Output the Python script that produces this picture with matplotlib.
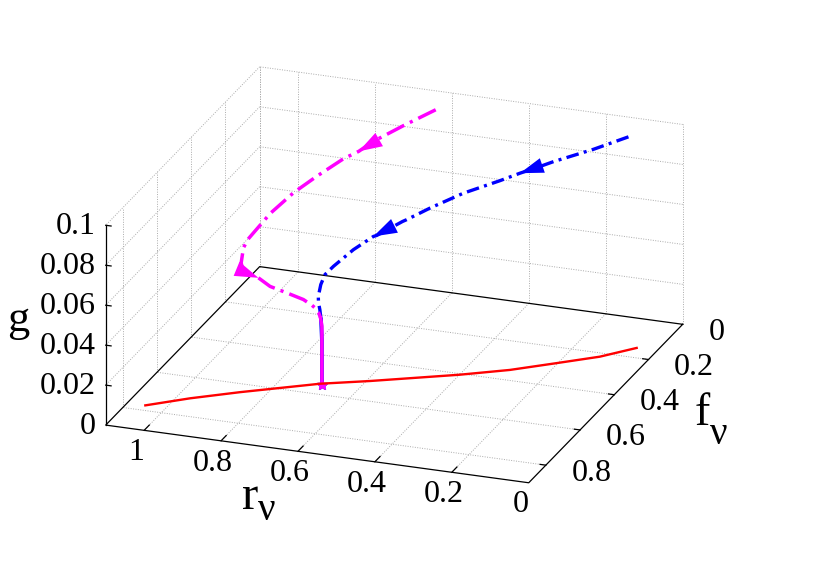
import matplotlib
matplotlib.use("Agg")
import matplotlib.pyplot as plt
from mpl_toolkits.mplot3d import proj3d

plt.rcParams['font.family'] = ['Liberation Serif', 'DejaVu Serif']

# axis ranges and ticks
r_ticks = [0, 0.2, 0.4, 0.6, 0.8, 1]
f_ticks = [0, 0.2, 0.4, 0.6, 0.8]
g_ticks = [0, 0.02, 0.04, 0.06, 0.08, 0.1]
r_labels = ["0", "0.2", "0.4", "0.6", "0.8", "1"]
f_labels = ["0", "0.2", "0.4", "0.6", "0.8"]
g_labels = ["0", "0.02", "0.04", "0.06", "0.08", "0.1"]
r_max = 1.1
f_max = 0.9
g_max = 0.1

# red curve, in the g = 0 plane
red_r = [1.053, 0.966, 0.865, 0.700, 0.591, 0.527, 0.399, 0.295, 0.203, 0.118, 0.053]
red_f = [0.774, 0.708, 0.643, 0.546, 0.498, 0.467, 0.405, 0.347, 0.281, 0.219, 0.150]

# blue flow
blue_r = [0.097, 0.185, 0.285, 0.315, 0.363, 0.410, 0.493, 0.572, 0.622, 0.632, 0.682, 0.690,
          0.722, 0.744, 0.754, 0.748, 0.734, 0.722, 0.705, 0.696, 0.694, 0.694]
blue_f = [0.099, 0.105, 0.114, 0.129, 0.135, 0.146, 0.174, 0.191, 0.215, 0.217, 0.254, 0.257,
          0.302, 0.369, 0.396, 0.434, 0.480, 0.506, 0.536, 0.5495, 0.549, 0.549]
blue_g = [0.100, 0.092, 0.084, 0.082, 0.078, 0.074, 0.068, 0.060, 0.055, 0.054, 0.049, 0.0485,
          0.045, 0.042, 0.040, 0.0385, 0.037, 0.0365, 0.036, 0.0325, 0.0225, 0.0]

# magenta flow
mag_r = [0.600, 0.670, 0.735, 0.762, 0.796, 0.845, 0.884, 0.918, 0.931, 0.936, 0.934, 0.919, 0.904,
         0.864, 0.827, 0.783, 0.739, 0.713, 0.707, 0.700, 0.696, 0.694, 0.694, 0.694]
mag_f = [0.095, 0.127, 0.156, 0.181, 0.193, 0.239, 0.288, 0.347, 0.416, 0.438, 0.468, 0.515, 0.537,
         0.538, 0.553, 0.554, 0.556, 0.564, 0.560, 0.555, 0.552, 0.549, 0.549, 0.549]
mag_g = [0.100, 0.093, 0.086, 0.0825, 0.079, 0.073, 0.068, 0.062, 0.058, 0.0565, 0.055, 0.052, 0.050,
         0.048, 0.046, 0.044, 0.042, 0.0405, 0.039, 0.0365, 0.0335, 0.0292, 0.0225, 0.0]

# arrow heads as (tail index, tip index) along each flow
blue_arrows = [(2, 4), (7, 11)]
mag_arrows = [(1, 3), (12, 13)]

# index where each flow turns into the solid drop onto the fixed point
blue_drop = 19
mag_drop = 20

fixed_r = 0.694
fixed_f = 0.549

fig = plt.figure(figsize=(8.3, 5.81), dpi=100)
ax = fig.add_axes([0, 0, 581 / 830, 1], projection='3d', computed_zorder=False, proj_type='ortho')
ax.view_init(elev=22, azim=110)
ax.set_xlim(0, r_max, view_margin=0)
ax.set_ylim(0, f_max, view_margin=0)
ax.set_zlim(0, g_max, view_margin=0)
ax.set_box_aspect((1, 1, 0.4787))
ax.set_axis_off()


def proj2d(r, f, g):
    x, y, _ = proj3d.proj_transform(r, f, g, ax.get_proj())
    return float(x), float(y)


grid_kw = dict(color='#aaaaaa', lw=0.7, ls=(0, (1, 1.5)), zorder=1)
edge_kw = dict(color='black', lw=0.9, zorder=2)

# walls and floor grid
for r in r_ticks + [r_max]:
    ax.plot([r, r], [0, 0], [0, g_max], **grid_kw)
    if 0 < r < r_max:
        ax.plot([r, r], [0, f_max], [0, 0], **grid_kw)
for f in f_ticks + [f_max]:
    ax.plot([r_max, r_max], [f, f], [0, g_max], **grid_kw)
    if 0 < f < f_max:
        ax.plot([0, r_max], [f, f], [0, 0], **grid_kw)
for g in g_ticks[1:]:
    ax.plot([0, r_max], [0, 0], [g, g], **grid_kw)
    ax.plot([r_max, r_max], [0, f_max], [g, g], **grid_kw)

# floor border and g axis
ax.plot([0, r_max, r_max, 0, 0], [0, 0, f_max, f_max, 0], [0, 0, 0, 0, 0], **edge_kw)
ax.plot([r_max, r_max], [f_max, f_max], [0, g_max], **edge_kw)
for r in r_ticks[1:]:
    ax.plot([r, r], [f_max, f_max - 0.03], [0, 0], **edge_kw)
for f in f_ticks[1:]:
    ax.plot([0, 0.015], [f, f], [0, 0], **edge_kw)
for g in g_ticks[1:]:
    ax.plot([r_max, r_max - 0.014], [f_max, f_max], [g, g], **edge_kw)


def tick_text(r, f, g, s, ha):
    ax.annotate(s, xy=proj2d(r, f, g), xytext=(0, -2), textcoords='offset points',
                fontsize=23, ha=ha, va='center', annotation_clip=False)


# tick labels
for r, s in zip(r_ticks, r_labels):
    tick_text(r - 0.025, f_max + 0.103, 0, s, 'center')
for f, s in zip(f_ticks, f_labels):
    tick_text(-0.07, f + 0.008, 0, s, 'left')
for g, s in zip(g_ticks, g_labels):
    tick_text(r_max + 0.026, f_max, g, s, 'right')

# curves, magenta has the longer dash
blue_dash = (0, (3.8, 1.6, 0.9, 1.6))
mag_dash = (0, (5.6, 1.8, 0.9, 1.8))
ax.plot(blue_r[:blue_drop + 1], blue_f[:blue_drop + 1], blue_g[:blue_drop + 1],
        color='#0000ff', lw=2.4, ls=blue_dash, zorder=3)
ax.plot(blue_r[blue_drop:], blue_f[blue_drop:], blue_g[blue_drop:], color='#0000ff', lw=2.7, zorder=3)
ax.plot(mag_r[:mag_drop + 1], mag_f[:mag_drop + 1], mag_g[:mag_drop + 1],
        color='#ff00ff', lw=2.5, ls=mag_dash, zorder=4)
ax.plot(mag_r[mag_drop:], mag_f[mag_drop:], mag_g[mag_drop:], color='#ff00ff', lw=2.5, zorder=4)
ax.plot([fixed_r], [fixed_f], [0], marker='*', ms=8, color='#0000ff', ls='none', zorder=3)
ax.plot([fixed_r], [fixed_f], [0], marker='*', ms=7, color='#ff00ff', ls='none', zorder=4)
ax.plot(red_r, red_f, [0] * len(red_r), color='#ff0000', lw=1.7, zorder=5)


def add_arrows(rs, fs, gs, arrows, col):
    for tail, tip in arrows:
        ax.annotate('', xy=proj2d(rs[tip], fs[tip], gs[tip]),
                    xytext=proj2d(rs[tail], fs[tail], gs[tail]),
                    arrowprops=dict(arrowstyle='-|>,head_length=1.7,head_width=0.55',
                                    mutation_scale=10, shrinkA=0, shrinkB=0,
                                    color=col, lw=0), zorder=6)


add_arrows(blue_r, blue_f, blue_g, blue_arrows, '#0000ff')
add_arrows(mag_r, mag_f, mag_g, mag_arrows, '#ff00ff')

# axis names
fig.text(250 / 830, 1 - 497 / 581, "r", fontsize=35, ha='center', va='center')
fig.text(267 / 830, 1 - 511 / 581, "ν", fontsize=28, ha='center', va='center')
fig.text(702 / 830, 1 - 414 / 581, "f", fontsize=33, ha='center', va='center')
fig.text(719 / 830, 1 - 434 / 581, "ν", fontsize=28, ha='center', va='center')
fig.text(18 / 830, 1 - 320 / 581, "g", fontsize=32, ha='center', va='center')

# fit the box onto the wanted corners of the floor (right corner and left corner, in pixels)
fig.canvas.draw()
pO = ax.transData.transform(proj2d(0, 0, 0))
pL = ax.transData.transform(proj2d(r_max, f_max, 0))
size = 581 * (682.7 - 105.7) / (pO[0] - pL[0])
x0 = 682.7 - pO[0] / 581 * size
y0 = (581 - 324.3) - pO[1] / 581 * size
ax.set_position([x0 / 830, y0 / 581, size / 830, size / 581])

fig.savefig("out.png", dpi=100)
